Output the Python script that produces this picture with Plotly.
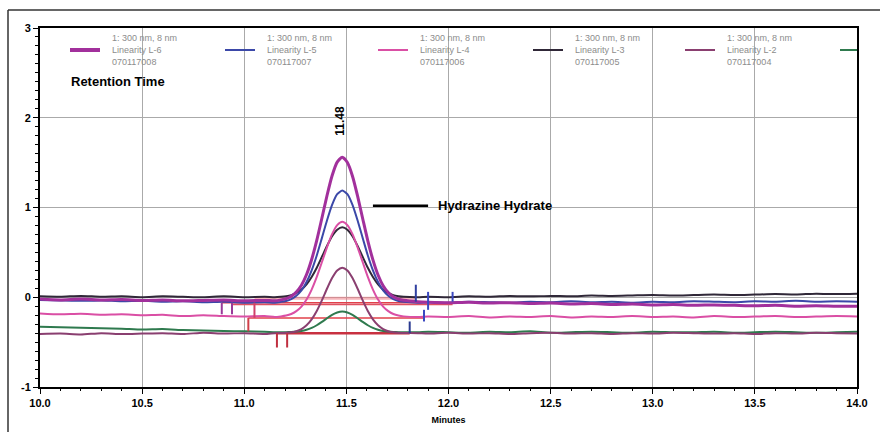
import plotly.graph_objects as go

# ---------------- data ----------------
TIME = [10.0, 10.1, 10.2, 10.3, 10.4, 10.5, 10.6, 10.7, 10.8, 10.9, 11.0, 11.1, 11.15,
        11.18, 11.205, 11.23, 11.255, 11.28, 11.305, 11.33, 11.355, 11.38, 11.405, 11.43, 11.455,
        11.48, 11.505, 11.53, 11.555, 11.58, 11.605, 11.63, 11.655, 11.68, 11.705, 11.73, 11.755, 11.78,
        11.85, 11.9, 12.0, 12.1, 12.2, 12.3, 12.4, 12.5, 12.6, 12.7, 12.8, 12.9, 13.0,
        13.1, 13.2, 13.3, 13.4, 13.5, 13.6, 13.7, 13.8, 13.9, 14.0]

L6 = [-0.02, -0.03, -0.02, -0.03, -0.025, -0.035, -0.03, -0.04, -0.035, -0.03, -0.04, -0.035, -0.04,
      -0.029, -0.016, 0.010, 0.058, 0.134, 0.253, 0.421, 0.634, 0.880, 1.131, 1.354, 1.506,
      1.560, 1.501, 1.349, 1.126, 0.875, 0.629, 0.416, 0.248, 0.129, 0.053, 0.005, -0.021, -0.034,
      -0.05, -0.055, -0.06, -0.055, -0.065, -0.06, -0.07, -0.065, -0.075, -0.07, -0.08, -0.075, -0.085,
      -0.08, -0.09, -0.085, -0.09, -0.095, -0.09, -0.1, -0.095, -0.1, -0.1]

L5 = [-0.03, -0.035, -0.04, -0.035, -0.045, -0.04, -0.05, -0.045, -0.055, -0.05, -0.06, -0.055, -0.06,
      -0.051, -0.041, -0.021, 0.016, 0.076, 0.169, 0.300, 0.466, 0.659, 0.855, 1.029, 1.148,
      1.190, 1.148, 1.029, 0.855, 0.659, 0.466, 0.300, 0.169, 0.076, 0.016, -0.021, -0.041, -0.051,
      -0.06, -0.055, -0.06, -0.05, -0.055, -0.06, -0.05, -0.055, -0.045, -0.055, -0.05, -0.06, -0.05,
      -0.055, -0.045, -0.05, -0.055, -0.045, -0.05, -0.04, -0.05, -0.045, -0.05]

L4 = [-0.18, -0.19, -0.185, -0.195, -0.19, -0.2, -0.195, -0.21, -0.2, -0.21, -0.215, -0.21, -0.22,
      -0.213, -0.204, -0.187, -0.155, -0.104, -0.026, 0.085, 0.226, 0.390, 0.556, 0.703, 0.804,
      0.840, 0.804, 0.703, 0.556, 0.390, 0.226, 0.085, -0.026, -0.104, -0.155, -0.187, -0.204, -0.213,
      -0.22, -0.215, -0.22, -0.21, -0.225, -0.215, -0.22, -0.21, -0.225, -0.215, -0.22, -0.21, -0.22,
      -0.215, -0.225, -0.21, -0.22, -0.215, -0.21, -0.22, -0.215, -0.21, -0.215]

L3 = [0.01, 0.005, 0.015, 0.005, 0.01, 0.0, 0.01, 0.005, 0.0, 0.01, 0.0, 0.005, 0.0,
      0.005, 0.012, 0.024, 0.048, 0.085, 0.143, 0.225, 0.328, 0.449, 0.571, 0.679, 0.753,
      0.780, 0.753, 0.679, 0.571, 0.449, 0.328, 0.225, 0.143, 0.085, 0.048, 0.024, 0.012, 0.005,
      0.0, 0.005, 0.0, 0.01, 0.005, 0.015, 0.01, 0.015, 0.01, 0.02, 0.015, 0.02, 0.025,
      0.02, 0.025, 0.03, 0.025, 0.03, 0.035, 0.03, 0.04, 0.035, 0.04]

L2 = [-0.41, -0.405, -0.415, -0.4, -0.41, -0.405, -0.4, -0.41, -0.395, -0.405, -0.4, -0.41, -0.4,
      -0.399, -0.396, -0.391, -0.378, -0.354, -0.312, -0.246, -0.153, -0.035, 0.095, 0.214, 0.299,
      0.330, 0.299, 0.214, 0.095, -0.035, -0.153, -0.246, -0.312, -0.354, -0.378, -0.391, -0.396, -0.399,
      -0.4, -0.405, -0.395, -0.405, -0.4, -0.41, -0.4, -0.395, -0.405, -0.4, -0.41, -0.4, -0.405,
      -0.395, -0.4, -0.405, -0.4, -0.41, -0.4, -0.405, -0.395, -0.4, -0.405]

L1 = [-0.33, -0.335, -0.34, -0.345, -0.35, -0.36, -0.355, -0.365, -0.37, -0.375, -0.38, -0.385, -0.39,
      -0.390, -0.389, -0.387, -0.383, -0.376, -0.362, -0.341, -0.312, -0.275, -0.234, -0.197, -0.170,
      -0.160, -0.170, -0.197, -0.234, -0.275, -0.312, -0.341, -0.362, -0.376, -0.383, -0.387, -0.389, -0.390,
      -0.39, -0.385, -0.39, -0.395, -0.385, -0.39, -0.38, -0.395, -0.39, -0.385, -0.39, -0.395, -0.385,
      -0.39, -0.39, -0.385, -0.395, -0.39, -0.385, -0.39, -0.395, -0.39, -0.385]

SERIES_NAMES = ["Linearity L-6", "Linearity L-5", "Linearity L-4",
                "Linearity L-3", "Linearity L-2", "Linearity L-1"]
SERIES_IDS = ["070117008", "070117007", "070117006", "070117005", "070117004", "070117003"]
CHANNEL = "1: 300 nm, 8 nm"
SERIES_VALUES = [L6, L5, L4, L3, L2, L1]
SERIES_COLORS = ["#A2309C", "#3B48A8", "#DA4FA5", "#302838", "#8A3F70", "#2F7A4E"]
SERIES_WIDTHS = [3, 2, 2, 2, 2, 2]

# integration baselines (start, end, level)
SEG_X0 = [11.05, 10.89, 10.94, 11.02, 11.16]
SEG_X1 = [11.84, 11.90, 12.02, 11.88, 11.81]
SEG_Y = [-0.01, -0.06, -0.08, -0.23, -0.40]
SEG_COLORS = ["rgba(238,120,130,0.55)", "#E0404A", "#E05060", "#E0404A", "#C83040"]
SEG_WIDTHS = [3, 1.5, 1.5, 1.5, 2.5]

# drop-line tick marks (x, y-from, y-to)
TICK_X = [10.89, 10.94, 11.05, 11.02, 11.16, 11.21, 11.84, 11.90, 12.02, 11.88, 11.81]
TICK_Y0 = [-0.06, -0.06, -0.06, -0.23, -0.40, -0.40, -0.05, -0.14, -0.05, -0.27, -0.40]
TICK_Y1 = [-0.19, -0.19, -0.23, -0.38, -0.56, -0.56, 0.14, 0.06, 0.06, -0.14, -0.27]
TICK_COLORS = ["#9A3A9A", "#9A3A9A", "#D0406A", "#D0404A", "#C03040", "#C03040",
               "#3040A0", "#3B48C0", "#3B48C0", "#3B48C0", "#2A3A90"]

PEAK_RT = 11.48
PEAK_LABEL = "11.48"
COMPOUND = "Hydrazine Hydrate"
COMPOUND_LINE_X = [11.63, 11.90]
COMPOUND_Y = 1.02

X_RANGE = [10.0, 14.0]
Y_RANGE = [-1, 3]
X_TICKS = [10.0, 10.5, 11.0, 11.5, 12.0, 12.5, 13.0, 13.5, 14.0]
Y_TICKS = [-1, 0, 1, 2, 3]

# ---------------- layout geometry ----------------
W, H = 880, 432
ML, MR, MT, MB = 40, 23, 28, 45
PW, PH = W - ML - MR, H - MT - MB


def px(xp):
    return (xp - ML) / PW


def py(yp):
    return (H - MB - yp) / PH


fig = go.Figure()

# integration baselines
for x0, x1, y, c, w in zip(SEG_X0, SEG_X1, SEG_Y, SEG_COLORS, SEG_WIDTHS):
    fig.add_trace(go.Scatter(x=[x0, x1], y=[y, y], mode="lines",
                             line=dict(color=c, width=w), showlegend=False, hoverinfo="skip"))

# chromatograms (smallest first so L-6 is on top)
for vals, c, w, n in reversed(list(zip(SERIES_VALUES, SERIES_COLORS, SERIES_WIDTHS, SERIES_NAMES))):
    fig.add_trace(go.Scatter(x=TIME, y=vals, mode="lines", name=n,
                             line=dict(color=c, width=w, shape="spline", smoothing=0.6),
                             showlegend=False))

# drop-line ticks
for x, y0, y1, c in zip(TICK_X, TICK_Y0, TICK_Y1, TICK_COLORS):
    fig.add_trace(go.Scatter(x=[x, x], y=[y0, y1], mode="lines",
                             line=dict(color=c, width=2), showlegend=False, hoverinfo="skip"))

# compound leader line
fig.add_trace(go.Scatter(x=COMPOUND_LINE_X, y=[COMPOUND_Y, COMPOUND_Y], mode="lines",
                         line=dict(color="black", width=2.5), showlegend=False, hoverinfo="skip"))

annotations = []
shapes = []

# custom legend
LEG_X0 = [70, 225, 378, 533, 685, 840]
for i, (n, sid, c) in enumerate(zip(SERIES_NAMES, SERIES_IDS, SERIES_COLORS)):
    lx = LEG_X0[i]
    shapes.append(dict(type="line", xref="paper", yref="paper",
                       x0=px(lx), x1=px(min(lx + 30, W - MR)), y0=py(50), y1=py(50),
                       line=dict(color=c, width=4 if i == 0 else 2)))
    if lx + 40 < W - MR - 30:
        for txt, yy in zip([CHANNEL, n, sid], [38, 50, 62]):
            annotations.append(dict(text=txt, xref="paper", yref="paper",
                                    x=px(lx + 40), y=py(yy), xanchor="left", yanchor="middle",
                                    showarrow=False,
                                    font=dict(family="Liberation Sans", size=9, color="#8C8C8C")))

annotations.append(dict(text="Retention Time", xref="paper", yref="paper",
                        x=px(69), y=py(81), xanchor="left", yanchor="middle", showarrow=False,
                        font=dict(family="Liberation Sans", size=13, color="black", weight="bold")))
annotations.append(dict(text=PEAK_LABEL, x=PEAK_RT - 0.01, y=1.97, textangle=-90,
                        xanchor="center", yanchor="middle", showarrow=False,
                        font=dict(family="Liberation Sans", size=12, color="black", weight="bold")))
annotations.append(dict(text=COMPOUND, x=COMPOUND_LINE_X[1] + 0.04, y=COMPOUND_Y,
                        xanchor="left", yanchor="middle", showarrow=False,
                        font=dict(family="Liberation Sans", size=13, color="black", weight="bold")))

# outer border of the figure
shapes.append(dict(type="line", xref="paper", yref="paper", x0=px(8), x1=px(8),
                   y0=py(H + 5), y1=py(10), line=dict(color="#333", width=1.5)))
shapes.append(dict(type="line", xref="paper", yref="paper", x0=px(8), x1=px(W + 5),
                   y0=py(10), y1=py(10), line=dict(color="#333", width=1.5)))

fig.update_layout(
    width=W, height=H,
    margin=dict(l=ML, r=MR, t=MT, b=MB, autoexpand=False),
    paper_bgcolor="white", plot_bgcolor="white",
    annotations=annotations, shapes=shapes,
    showlegend=False,
)
fig.update_xaxes(range=X_RANGE, tickvals=X_TICKS, ticktext=[f"{v:.1f}" for v in X_TICKS],
                 automargin=False,
                 showgrid=True, gridcolor="#AAAAAA", gridwidth=1, zeroline=False,
                 showline=True, linecolor="black", linewidth=2, mirror=True,
                 ticks="outside", ticklen=5, tickcolor="black",
                 minor=dict(ticks="outside", ticklen=2, dtick=0.1, tickcolor="black", showgrid=False),
                 tickfont=dict(family="Liberation Sans", size=11, color="black", weight="bold"),
                 title=dict(text="Minutes", standoff=8,
                            font=dict(family="Liberation Sans", size=9, color="black", weight="bold")))
fig.update_yaxes(range=Y_RANGE, tickvals=Y_TICKS, ticktext=[str(v) for v in Y_TICKS],
                 automargin=False,
                 showgrid=True, gridcolor="#AAAAAA", gridwidth=1, zeroline=False,
                 showline=True, linecolor="black", linewidth=2, mirror=True,
                 ticks="outside", ticklen=5, tickcolor="black",
                 minor=dict(ticks="outside", ticklen=3, dtick=0.1, tickcolor="black", showgrid=False),
                 tickfont=dict(family="Liberation Sans", size=11, color="black", weight="bold"))

fig.write_html("out.html")
